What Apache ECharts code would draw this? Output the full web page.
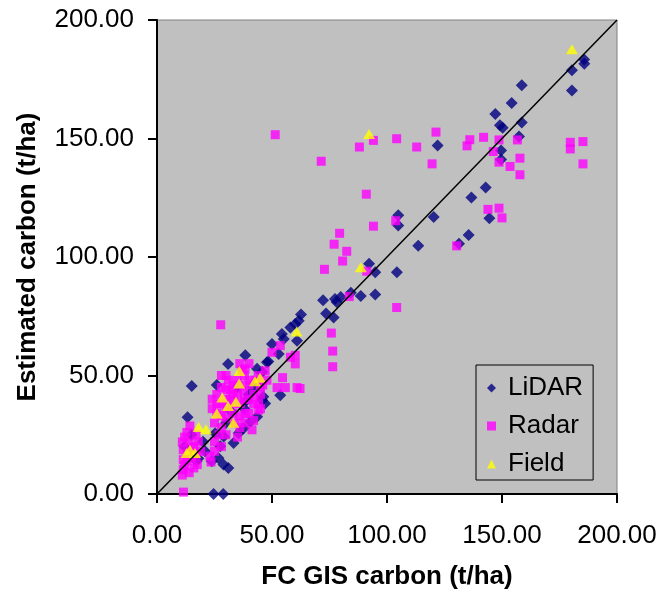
<!DOCTYPE html>
<html>
<head>
<meta charset="utf-8">
<script src="https://cdn.jsdelivr.net/npm/echarts@6/dist/echarts.min.js"></script>
<style>html,body{margin:0;padding:0;background:#fff}#c{width:660px;height:595px}</style>
</head>
<body>
<div id="c"></div>
<script>
var xTicks = [0, 50, 100, 150, 200];
var yTicks = [0, 50, 100, 150, 200];
var seriesNames = ['LiDAR', 'Radar', 'Field'];
var xTitle = 'FC GIS carbon (t/ha)';
var yTitle = 'Estimated carbon (t/ha)';

var lidar = [
  [185.7,183.3],[185.8,181.5],[180.4,178.8],[180.4,170.3],[158.6,172.5],[154.2,165.0],[147.1,160.3],
  [149.1,155.6],[150.3,154.5],[158.6,156.8],[157.4,150.8],[149.6,144.9],[149.6,141.1],[142.9,129.3],
  [136.7,125.1],[144.5,116.3],[135.5,109.3],[131.3,105.6],[122.0,147.0],[120.3,116.9],[113.6,104.7],
  [104.9,117.6],[104.9,113.3],[104.3,93.6],[92.2,97.1],[94.9,93.6],[72.2,81.7],[77.4,82.3],[78.1,81.0],
  [79.9,83.1],[84.3,84.9],[88.6,83.5],[94.9,84.2],[73.5,76.2],[76.8,74.5],[62.6,75.7],
  [61.6,73.1],[60.1,71.7],[58.0,70.3],[54.3,67.5],[55.1,65.4],[50.0,63.3],[52.9,59.1],[38.4,58.5],
  [47.8,55.6],[60.9,64.7],[43.5,52.9],[45.7,51.5],[53.6,41.7],[30.9,54.8],[15.1,45.6],[26.0,46.0],
  [39.0,39.6],[43.5,32.6],[40.6,30.5],[37.7,27.7],[35.5,25.6],[45.7,39.6],[46.2,41.0],[47.0,38.2],
  [13.3,32.4],[20.9,18.0],[17.2,13.8],[23.8,13.8],[26.7,15.2],[28.9,12.4],[31.0,11.0],[24.6,0.0],
  [28.8,0.0],[25.3,25.6],[29.0,24.3],[33.3,21.5],[27.5,20.1],[48.4,55.9],[35.0,45.0],[40.0,42.0],
  [32.0,35.0],[38.0,36.0],[42.0,45.0],[30.0,30.0],[20.0,22.0],[15.0,25.0],[12.0,20.0],[18.0,15.0]
];

var radar = [
  [136.0,149.5],[134.8,146.9],[142.0,150.5],[148.7,149.4],[156.7,149.4],[146.2,144.5],[148.7,140.0],
  [153.5,138.2],[157.8,141.7],[157.8,134.7],[179.7,148.4],[179.7,145.6],[185.2,148.7],[185.2,139.3],
  [143.9,120.1],[148.7,120.6],[150.0,116.5],[130.3,104.7],[121.3,152.7],[51.4,151.6],[71.4,140.4],
  [88.0,146.4],[94.1,149.2],[104.2,149.9],[112.9,146.4],[119.6,139.3],[91.0,126.5],[94.1,113.0],
  [103.8,115.3],[79.4,110.0],[77.0,105.4],[82.5,102.4],[80.7,98.3],[72.8,94.8],[91.2,94.0],[83.6,83.3],
  [104.2,78.7],[75.8,67.9],[76.4,60.3],[76.4,53.7],[62.2,44.5],
  [27.7,71.4],[53.6,62.6],[50.0,59.8],[58.0,57.7],[60.1,58.5],[60.1,54.9],[54.6,49.1],[52.2,44.9],
  [55.8,44.9],[60.9,44.9],[37.0,52.2],[34.8,48.0],[37.7,43.8],[44.9,45.2],[47.8,48.0],[41.3,27.1],
  [44.2,38.2],[44.2,35.4],[36.2,38.2],[38.4,34.0],[14.3,28.7],[23.5,13.5],[17.5,12.4],[11.4,18.7],
  [11.4,14.5],[11.4,10.3],[11.5,0.8],[38.3,52.8],
  [26,42],[26,38],[26,34],[25,30],[28,45],[30,50],[30,44],[30,40],[30,36],[30,32],[28,28],[33,46],
  [33,42],[33,38],[33,34],[34,30],[36,28],[38,50],[40,46],[40,40],[42,42],[40,34],[42,31],[45,42],
  [47,52],[36,55],[40,55],[43,48],[27,25],[25,22],[25,18],[28,20],[30,25],[35,24],[23,16],
  [24,36],[24,40],[28,38],[28,33],[32,44],[32,40],[35,42],[36,46],[38,40],[38,30],[42,38],[45,36],
  [44,50],[46,46],[31,48],[28,50],[36,33],[40,48],
  [12,24],[14,22],[16,20],[13,17],[15,15],[12,12],[14,9],[16,11],[18,22],[19,18],[13,26],[17,25],
  [11,22],[15,18],[17,16],[13,14],[11,8]
];

var field = [
  [180.4,187.7],[92.2,151.9],[88.6,95.7],[60.7,68.6],[35.8,51.9],[35.7,46.6],[42.6,47.6],[44.8,49.0],
  [28.4,40.7],[30.9,37.1],[34.3,38.9],[26.0,34.0],[33.2,30.1],[18.1,28.3],[21.3,27.3],[14.3,18.7],
  [16.5,17.3],[12.9,17.3]
];

var oneToOne = [[0,0],[200,200]];

var FONT = '"Liberation Sans", Arial, sans-serif';
var chart = echarts.init(document.getElementById('c'), null, {renderer: 'canvas'});
function axisCommon(name, gap) {
  return {
    type: 'value', min: xTicks[0], max: xTicks[xTicks.length-1], interval: xTicks[1]-xTicks[0],
    name: name, nameLocation: 'middle', nameGap: gap,
    nameTextStyle: {fontFamily: FONT, fontSize: 26, fontWeight: 'bold', color: '#000'},
    axisLine: {show: true, onZero: false, lineStyle: {color: '#000', width: 2}},
    axisTick: {show: true, inside: false, length: 9, lineStyle: {color: '#000', width: 2}},
    axisLabel: {fontFamily: FONT, fontSize: 26, color: '#000', formatter: function(v){return v.toFixed(2);}},
    splitLine: {show: false}
  };
}
var xa = axisCommon(xTitle, 70); xa.axisLabel.margin = 29;
var ya = axisCommon(yTitle, 116); ya.axisLabel.margin = 23;
ya.min = yTicks[0]; ya.max = yTicks[yTicks.length-1]; ya.interval = yTicks[1]-yTicks[0];

chart.setOption({
  animation: false,
  backgroundColor: '#fff',
  grid: {left: 157, right: 43, top: 20, bottom: 97, show: true, backgroundColor: '#C0C0C0',
         borderColor: '#808080', borderWidth: 1},
  xAxis: xa,
  yAxis: ya,
  legend: {
    orient: 'vertical', left: 476, top: 365,
    data: [{name: seriesNames[0], icon: 'diamond'}, {name: seriesNames[1], icon: 'rect'}, {name: seriesNames[2], icon: 'triangle'}],
    itemWidth: 9, itemHeight: 9, itemGap: 8,
    padding: [8, 10, 1, 11],
    borderColor: '#000', borderWidth: 1, backgroundColor: 'transparent',
    textStyle: {fontFamily: FONT, fontSize: 26, color: '#000', lineHeight: 30, padding: [0,0,0,7]}
  },
  series: [
    {name: seriesNames[0], type: 'scatter', data: lidar, symbol: 'diamond', symbolSize: 12,
     itemStyle: {color: '#000080'}},
    {name: seriesNames[1], type: 'scatter', data: radar, symbol: 'rect', symbolSize: 9,
     itemStyle: {color: '#FF00FF'}},
    {name: seriesNames[2], type: 'scatter', data: field, symbol: 'triangle', symbolSize: [12, 10],
     itemStyle: {color: '#FFFF00'}},
    {name: '1:1', type: 'line', data: oneToOne, symbol: 'none', silent: true,
     lineStyle: {color: '#000', width: 1.5}}
  ]
});
</script>
</body>
</html>
